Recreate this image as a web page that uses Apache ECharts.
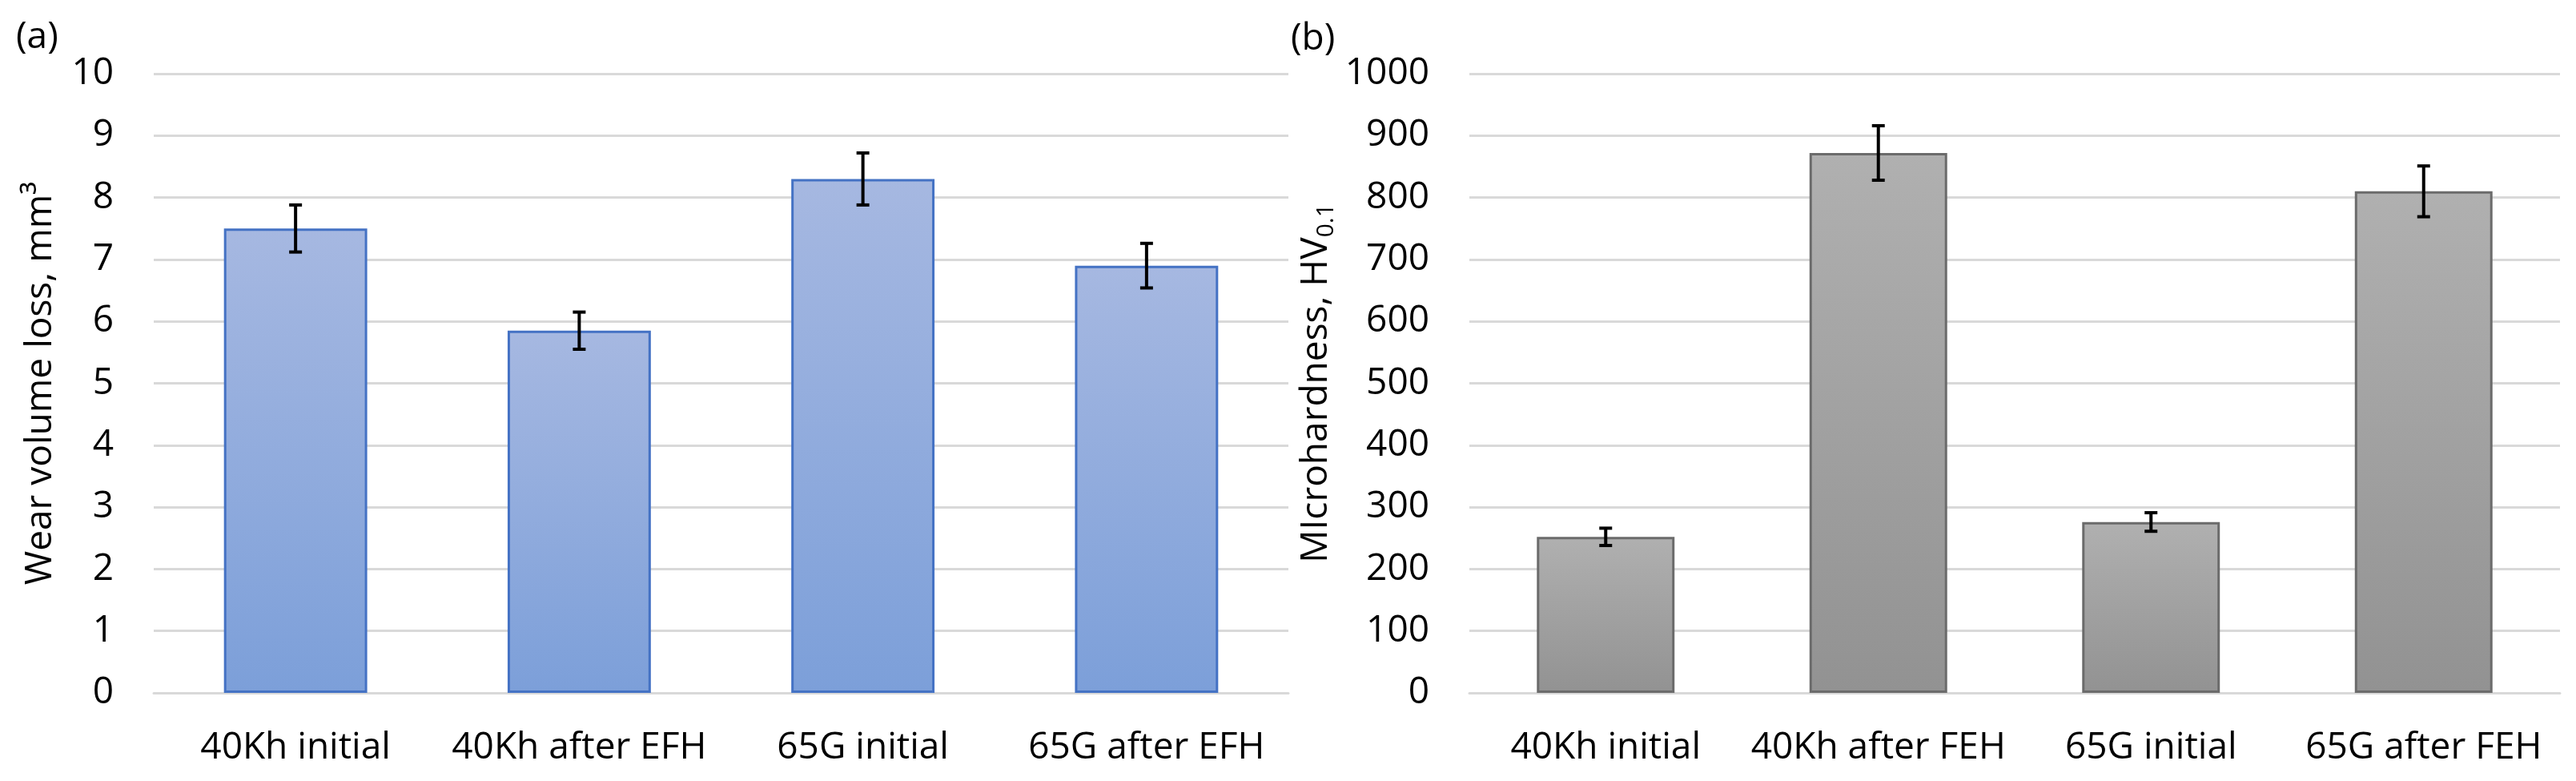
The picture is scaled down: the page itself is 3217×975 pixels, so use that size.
<!DOCTYPE html>
<html>
<head>
<meta charset="utf-8">
<script src="https://cdn.jsdelivr.net/npm/echarts@6/dist/echarts.min.js"></script>
<style>
html,body{margin:0;padding:0;background:#fff;}
#chart{width:3217px;height:975px;}
</style>
</head>
<body>
<div id="chart"></div>
<script>
// ---- Data ----
const categoriesA = ['40Kh initial', '40Kh after EFH', '65G initial', '65G after EFH'];
const wearLoss = [7.5, 5.85, 8.3, 6.9];
const wearErr = [0.38, 0.3, 0.42, 0.36];

const categoriesB = ['40Kh initial', '40Kh after FEH', '65G initial', '65G after FEH'];
const hardness = [252, 872, 276, 810];
const hardnessErr = [14, 44, 15, 41];

const ticksA = { min: 0, max: 10, interval: 1 };
const ticksB = { min: 0, max: 1000, interval: 100 };

// ---- Build ----
const FONT = 'Open Sans';
const FS = 46;
const chart = echarts.init(document.getElementById('chart'), null, { renderer: 'canvas' });

function errData(vals, errs) {
  return vals.map((v, i) => [i, v - errs[i], v + errs[i]]);
}
function errRender(params, api) {
  const x = api.value(0);
  const lo = api.coord([x, api.value(1)]);
  const hi = api.coord([x, api.value(2)]);
  const cap = 8;
  const style = { stroke: '#000', lineWidth: 4 };
  return {
    type: 'group',
    children: [
      { type: 'line', shape: { x1: lo[0], y1: lo[1], x2: hi[0], y2: hi[1] }, style },
      { type: 'line', shape: { x1: hi[0] - cap, y1: hi[1], x2: hi[0] + cap, y2: hi[1] }, style },
      { type: 'line', shape: { x1: lo[0] - cap, y1: lo[1], x2: lo[0] + cap, y2: lo[1] }, style }
    ]
  };
}

const blueGrad = new echarts.graphic.LinearGradient(0, 0, 0, 1, [
  { offset: 0, color: '#a6b8e1' }, { offset: 1, color: '#7c9fd9' }
]);
const grayGrad = new echarts.graphic.LinearGradient(0, 0, 0, 1, [
  { offset: 0, color: '#b0b0b0' }, { offset: 1, color: '#929292' }
]);

function xAxisCfg(idx, cats) {
  return {
    type: 'category', gridIndex: idx, data: cats,
    axisLine: { show: true, lineStyle: { color: '#d9d9d9', width: 3 } },
    axisTick: { show: false },
    axisLabel: { fontFamily: FONT, fontSize: FS, color: '#000', margin: 46, interval: 0 }
  };
}
function yAxisCfg(idx, t, nameRich, nameGap) {
  return {
    type: 'value', gridIndex: idx, min: t.min, max: t.max, interval: t.interval,
    axisLine: { show: false }, axisTick: { show: false },
    splitLine: { show: true, lineStyle: { color: '#d9d9d9', width: 3 } },
    axisLabel: { fontFamily: FONT, fontSize: FS, color: '#000', margin: 50, formatter: (v) => String(v) },
    name: nameRich, nameLocation: 'middle', nameRotate: 90, nameGap: nameGap,
    nameTextStyle: {
      fontFamily: FONT, fontSize: FS, color: '#000',
      rich: {
        n: { fontFamily: FONT, fontSize: FS, color: '#000', lineHeight: 54 },
        sub: { fontFamily: FONT, fontSize: 30, color: '#000', lineHeight: 12, verticalAlign: 'bottom' }
      }
    }
  };
}

const option = {
  animation: false,
  backgroundColor: '#fff',
  grid: [
    { left: 192, top: 92, width: 1417, height: 773 },
    { left: 1835, top: 92, width: 1362, height: 773 }
  ],
  xAxis: [xAxisCfg(0, categoriesA), xAxisCfg(1, categoriesB)],
  yAxis: [
    yAxisCfg(0, ticksA, '{n|Wear volume loss, mm³}', 114),
    yAxisCfg(1, ticksB, '{n|MIcrohardness, HV}{sub|0.1}', 164)
  ],
  graphic: [
    { type: 'text', left: 20, top: 24, style: { text: '(a)', fontFamily: FONT, fontSize: FS, fill: '#000' } },
    { type: 'text', left: 1612, top: 26, style: { text: '(b)', fontFamily: FONT, fontSize: FS, fill: '#000' } }
  ],
  series: [
    {
      type: 'bar', xAxisIndex: 0, yAxisIndex: 0, data: wearLoss, barWidth: '50.5%',
      itemStyle: { color: blueGrad, borderColor: '#4472c4', borderWidth: 3 }
    },
    {
      type: 'custom', xAxisIndex: 0, yAxisIndex: 0, data: errData(wearLoss, wearErr),
      renderItem: errRender, encode: { x: 0, y: [1, 2] }, z: 10
    },
    {
      type: 'bar', xAxisIndex: 1, yAxisIndex: 1, data: hardness, barWidth: '50.5%',
      itemStyle: { color: grayGrad, borderColor: '#6b6b6b', borderWidth: 3 }
    },
    {
      type: 'custom', xAxisIndex: 1, yAxisIndex: 1, data: errData(hardness, hardnessErr),
      renderItem: errRender, encode: { x: 0, y: [1, 2] }, z: 10
    }
  ]
};
chart.setOption(option);
</script>
</body>
</html>
